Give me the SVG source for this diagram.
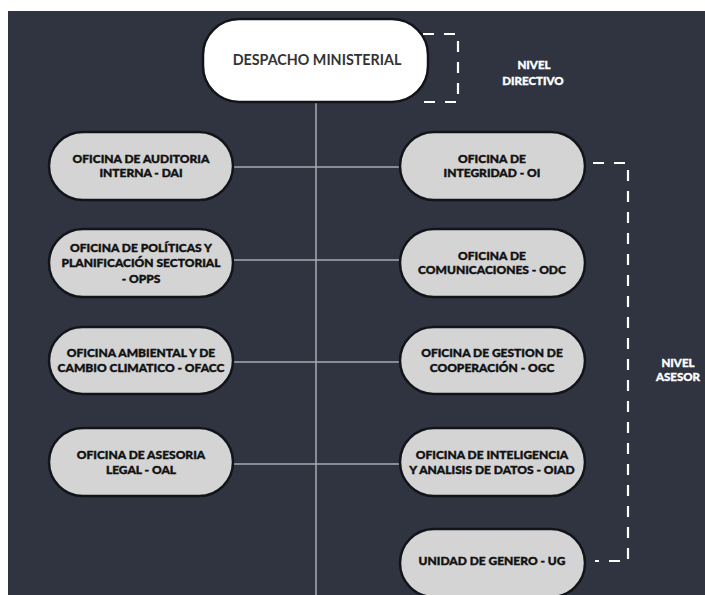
<svg xmlns="http://www.w3.org/2000/svg" width="705" height="595" viewBox="0 0 705 595">
<style>
.bg{fill:#2f3440}
.node rect{fill:#d4d4d4;stroke:#111418;stroke-width:2.5}
.node text{font-family:Lato,"Open Sans","Liberation Sans",sans-serif;font-weight:900;font-size:12px;fill:#111;stroke:#111;stroke-width:0.4;text-anchor:middle}
.top rect{fill:#ffffff;stroke:#111418;stroke-width:2.5}
.top text{font-family:Lato,"Open Sans","Liberation Sans",sans-serif;font-weight:700;font-size:14.3px;fill:#333;text-anchor:middle}
.conn line{stroke:#a6abb2;stroke-width:1.5}
.dash{fill:none;stroke:#ffffff;stroke-width:2.2;stroke-dasharray:11 10}
.lvl{font-family:Lato,"Open Sans","Liberation Sans",sans-serif;font-weight:900;font-size:11.5px;fill:#ffffff;stroke:#ffffff;stroke-width:0.35;text-anchor:middle}
</style>
<rect x="0" y="0" width="705" height="595" fill="#ffffff"/>
<rect class="bg" x="8" y="11" width="697" height="584"/>
<g id="connectors" class="conn">
<line x1="316" y1="102" x2="316" y2="595"/>
<line x1="233" y1="167" x2="400" y2="167"/>
<line x1="233" y1="260" x2="400" y2="260"/>
<line x1="233" y1="362" x2="400" y2="362"/>
<line x1="233" y1="464" x2="400" y2="464"/>
</g>
<g id="brackets">
<path class="dash" d="M423 34 H458 V102 H420"/>
<path class="dash" d="M593 163 H628 V561 H595"/>
<text class="lvl" x="534" y="69">NIVEL</text>
<text class="lvl" x="533" y="85">DIRECTIVO</text>
<text class="lvl" x="678" y="367">NIVEL</text>
<text class="lvl" x="678" y="381">ASESOR</text>
</g>
<g id="despacho" class="top">
<rect x="203" y="19" width="225" height="83" rx="36" ry="36"/>
<text x="317" y="65">DESPACHO MINISTERIAL</text>
</g>
<g id="dai" class="node">
<rect x="49" y="132" width="184" height="68" rx="34" ry="34"/>
<text x="141" y="163">OFICINA DE AUDITORIA</text>
<text x="141" y="177">INTERNA - DAI</text>
</g>
<g id="opps" class="node">
<rect x="49" y="229" width="184" height="68" rx="34" ry="34"/>
<text x="141" y="252">OFICINA DE POLÍTICAS Y</text>
<text x="141" y="267">PLANIFICACIÓN SECTORIAL</text>
<text x="141" y="283">- OPPS</text>
</g>
<g id="ofacc" class="node">
<rect x="49" y="327" width="184" height="67" rx="33.5" ry="33.5"/>
<text x="141" y="357">OFICINA AMBIENTAL Y DE</text>
<text x="141" y="372">CAMBIO CLIMATICO - OFACC</text>
</g>
<g id="oal" class="node">
<rect x="49" y="428" width="184" height="68" rx="34" ry="34"/>
<text x="141" y="459">OFICINA DE ASESORIA</text>
<text x="141" y="474">LEGAL - OAL</text>
</g>
<g id="oi" class="node">
<rect x="400" y="132" width="185" height="68" rx="34" ry="34"/>
<text x="492" y="163">OFICINA DE</text>
<text x="492" y="177">INTEGRIDAD - OI</text>
</g>
<g id="odc" class="node">
<rect x="400" y="229" width="185" height="68" rx="34" ry="34"/>
<text x="492" y="260">OFICINA DE</text>
<text x="492" y="274">COMUNICACIONES - ODC</text>
</g>
<g id="ogc" class="node">
<rect x="400" y="327" width="185" height="67" rx="33.5" ry="33.5"/>
<text x="492" y="357">OFICINA DE GESTION DE</text>
<text x="492" y="372">COOPERACIÓN - OGC</text>
</g>
<g id="oiad" class="node">
<rect x="400" y="428" width="185" height="68" rx="34" ry="34"/>
<text x="492" y="459">OFICINA DE INTELIGENCIA</text>
<text x="492" y="474">Y ANALISIS DE DATOS - OIAD</text>
</g>
<g id="ug" class="node">
<rect x="400" y="529" width="185" height="68" rx="34" ry="34"/>
<text x="492" y="565">UNIDAD DE GENERO - UG</text>
</g>
</svg>
